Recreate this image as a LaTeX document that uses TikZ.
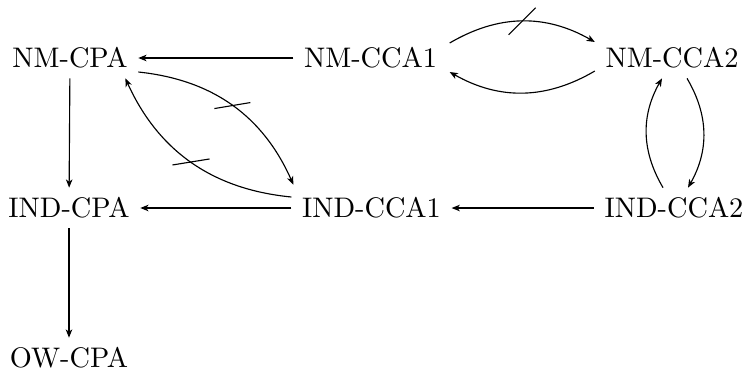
\documentclass[tikz,border=0pt]{standalone}
\usetikzlibrary{arrows.meta}
\begin{document}
\begin{tikzpicture}[x=0.3534pt, y=-0.3534pt,
  notion/.style={inner xsep=3.6pt, inner ysep=3.3pt},
  imp/.style={-{Stealth[length=2.9pt,width=2.3pt,inset=0.8pt]}},
  bent/.style={imp, bend left=30},
  bar/.style={line width=0.4pt}]
\useasboundingbox (0,0) rectangle (745,371);
% security notions
\node[notion] (nmcpa)   at (70,58)    {NM-CPA};
\node[notion] (nmcca1)  at (370.5,58) {NM-CCA1};
\node[notion] (nmcca2)  at (672,58)   {NM-CCA2};
\node[notion] (indcpa)  at (69,208)   {IND-CPA};
\node[notion] (indcca1) at (371.5,208) {IND-CCA1};
\node[notion] (indcca2) at (674,208)  {IND-CCA2};
\node[notion] (owcpa)   at (69,358)   {OW-CPA};
% straight implications
\draw[imp] (nmcca1) -- (nmcpa);
\draw[imp] (nmcpa) -- (indcpa);
\draw[imp] (indcpa) -- (owcpa);
\draw[imp] (indcca1) -- (indcpa);
\draw[imp] (indcca2) -- (indcca1);
% curved implications and separations
\draw[bent] ([shift={(0,14)}]nmcpa.east) to coordinate[pos=0.5] (s1)
  ([shift={(2,-3)}]indcca1.north west);
\draw[bent] ([shift={(0,-11)}]indcca1.west) to coordinate[pos=0.5] (s2)
  ([shift={(-13,0)}]nmcpa.south east);
\draw[bent] ([shift={(2,-15)}]nmcca1.east) to coordinate[pos=0.5] (s3)
  ([shift={(0,-16)}]nmcca2.west);
\draw[bent] ([shift={(0,13)}]nmcca2.west) to ([shift={(2,14)}]nmcca1.east);
\draw[bent] ([shift={(-11,0)}]indcca2.north) to ([shift={(-10,0)}]nmcca2.south);
\draw[bent] ([shift={(15,0)}]nmcca2.south) to ([shift={(14,0)}]indcca2.north);
% strokes marking non-implications
\draw[bar] ([shift={(-18,3)}]s1) -- ([shift={(18,-3)}]s1);
\draw[bar] ([shift={(-18.5,3)}]s2) -- ([shift={(18.5,-3)}]s2);
\draw[bar] ([shift={(-13.5,13.5)}]s3) -- ([shift={(13.5,-13.5)}]s3);
\end{tikzpicture}
\end{document}
